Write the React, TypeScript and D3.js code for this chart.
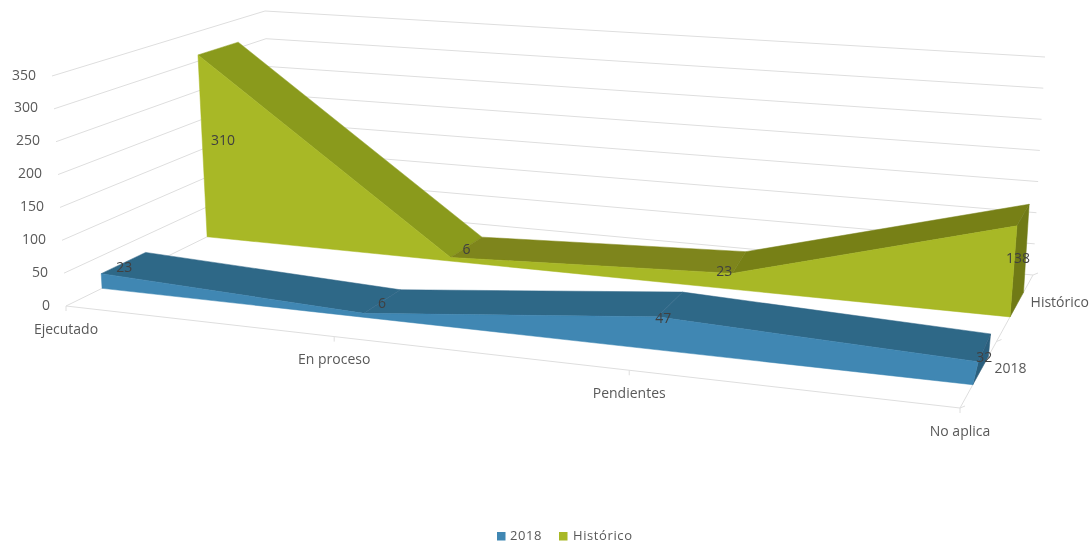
import React from "react";
import * as d3 from "d3";

const categories = ["Ejecutado", "En proceso", "Pendientes", "No aplica"];
const seriesNames = ["2018", "Histórico"];
const values2018 = [23, 6, 47, 32];
const valuesHistorico = [310, 6, 23, 138];
const valueTicks = [0, 50, 100, 150, 200, 250, 300, 350];

const W = 1091, H = 544;
type P = [number, number];
// box corners of the 3-D plot, as photographed
const FL0: P = [66, 306], FR0: P = [960, 408], BL0: P = [272, 205], BR0: P = [1033, 275];
const FL1: P = [52, 76], FR1: P = [990, 149], BL1: P = [265, 11], BR1: P = [1045, 57];

const lerp = (a: number, b: number, t: number) => a + (b - a) * t;
const lp = (a: P, b: P, t: number): P => [lerp(a[0], b[0], t), lerp(a[1], b[1], t)];

const valueScale = d3.scaleLinear().domain([0, 350]).range([0, 1]);
const catIndex = categories.map((_, i) => i);
// perspective: the front edge and the back edge are spaced differently
const uFront = d3.scaleLinear().domain(catIndex).range([0, 0.3, 0.63, 1]);
const uBack = d3.scaleLinear().domain(catIndex).range([0, 0.305, 0.645, 1]);

function project(cat: number, z: number, value: number): P {
  const f = uFront(cat), b = uBack(cat), v = valueScale(value);
  const floor = lp(lp(FL0, FR0, f), lp(BL0, BR0, b), z);
  const top = lp(lp(FL1, FR1, f), lp(BL1, BR1, b), z);
  return lp(floor, top, v);
}

const line = d3.line<P>();
const closed = (pts: P[]) => (line(pts) ?? "") + "Z";

const TEXT = "#595959";
const FONT = "'Open Sans', sans-serif";
const FS = 14;
const BLUE = "#3F87B3";
const GREEN = "#A8B825";

type S = {
  name: string; values: number[]; zFront: number; zBack: number;
  front: string; side: string; tops: string[]; nudges: P[]; creaseShift: number[];
};
const historico: S = {
  name: seriesNames[1], values: valuesHistorico, zFront: 0.685, zBack: 0.87,
  front: GREEN, side: "#6F7A15", tops: ["#8A9A1E", "#7E851A", "#778019"],
  nudges: [[25, 85], [16, -9], [-8, -3], [1, 32]], creaseShift: [-1, 0, 11, 0],
};
const s2018: S = {
  name: seriesNames[0], values: values2018, zFront: 0.175, zBack: 0.39,
  front: BLUE, side: "#2C5F7D", tops: ["#2F6787", "#2F6787", "#2F6787"],
  nudges: [[23, -7], [18, -11], [6, 1], [6, -5]], creaseShift: [0, 0, 3, 3],
};

function Series({ s }: { s: S }) {
  const n = s.values.length;
  const topF = s.values.map((v, i) => {
    const p = project(i, s.zFront, v);
    return [p[0] + s.creaseShift[i], p[1]] as P;
  });
  const topB = s.values.map((v, i) => project(i, s.zBack, v));
  const baseF = s.values.map((_, i) => project(i, s.zFront, 0));
  const baseB = project(n - 1, s.zBack, 0);
  return (
    <g>
      {d3.range(n - 1).map((i) => (
        <path key={i} d={closed([topF[i], topB[i], topB[i + 1], topF[i + 1]])} fill={s.tops[i]} stroke={s.tops[i]} strokeWidth={0.5} />
      ))}
      <path d={closed([topF[n - 1], topB[n - 1], baseB, baseF[n - 1]])} fill={s.side} stroke={s.side} strokeWidth={0.5} />
      <path d={closed([...topF, baseF[n - 1], baseF[0]])} fill={s.front} stroke={s.front} strokeWidth={0.5} />
    </g>
  );
}

function Labels({ s }: { s: S }) {
  return (
    <g>
      {s.values.map((v, i) => {
        const p = project(i, s.zFront, v);
        return (
          <text key={i} x={p[0] + s.nudges[i][0] + s.creaseShift[i]} y={p[1] + s.nudges[i][1]} textAnchor="middle" dominantBaseline="central"
            fontSize={FS} fontFamily={FONT} fill="#404040">{v}</text>
        );
      })}
    </g>
  );
}

export default function App() {
  const grid = "#dedede";
  const last = categories.length - 1;
  return (
    <svg width={W} height={H} viewBox={`0 0 ${W} ${H}`} style={{ position: "absolute", left: 0, top: 0, display: "block", background: "#fff" }}>
      <defs>
        <filter id="soft" filterUnits="userSpaceOnUse" x="0" y="0" width={W} height={H}>
          <feGaussianBlur stdDeviation="0.65" />
        </filter>
      </defs>
      <g filter="url(#soft)">
        {valueTicks.map((t) => {
          const a = project(0, 0, t), b = project(0, 1, t), c = project(last, 1, t);
          return <path key={t} d={line([a, b, c]) ?? ""} fill="none" stroke={grid} strokeWidth={1} />;
        })}
        <path d={line([project(0, 0, 0), project(last, 0, 0), project(last, 1, 0)]) ?? ""} fill="none" stroke={grid} strokeWidth={1} />
        {categories.map((_, i) => {
          const p = project(i, 0, 0);
          return <line key={i} x1={p[0]} y1={p[1]} x2={p[0]} y2={p[1] + 5} stroke={grid} />;
        })}
        {[0, 0.5, 1].map((z) => {
          const p = project(last, z, 0);
          return <line key={z} x1={p[0]} y1={p[1]} x2={p[0] + 5} y2={p[1] - 2} stroke={grid} />;
        })}
        <Series s={historico} />
        <Series s={s2018} />
        <Labels s={historico} />
        <Labels s={s2018} />
        {valueTicks.map((t) => {
          const p = project(0, 0, t);
          return (
            <text key={t} x={p[0] - 16} y={p[1] - 2} textAnchor="end" dominantBaseline="central"
              fontSize={FS} fontFamily={FONT} fill={TEXT}>{t}</text>
          );
        })}
        {categories.map((c, i) => {
          const p = project(i, 0, 0);
          return (
            <text key={c} x={p[0]} y={p[1] + 22} textAnchor="middle" dominantBaseline="central"
              fontSize={FS} fontFamily={FONT} fill={TEXT}>{c}</text>
          );
        })}
        {[s2018, historico].map((s) => {
          const p = project(last, (s.zFront + s.zBack) / 2 - 0.03, 0);
          return (
            <text key={s.name} x={p[0] + 16} y={p[1] - 7} dominantBaseline="central"
              fontSize={FS} fontFamily={FONT} fill={TEXT}>{s.name}</text>
          );
        })}
        <rect x={497} y={532} width={8.5} height={8.5} fill={BLUE} />
        <text x={510} y={535} dominantBaseline="central" fontSize={13} letterSpacing={0.6} fontFamily={FONT} fill={TEXT}>{seriesNames[0]}</text>
        <rect x={559} y={532} width={8.5} height={8.5} fill={GREEN} />
        <text x={573} y={535} dominantBaseline="central" fontSize={13} letterSpacing={0.6} fontFamily={FONT} fill={TEXT}>{seriesNames[1]}</text>
      </g>
    </svg>
  );
}
